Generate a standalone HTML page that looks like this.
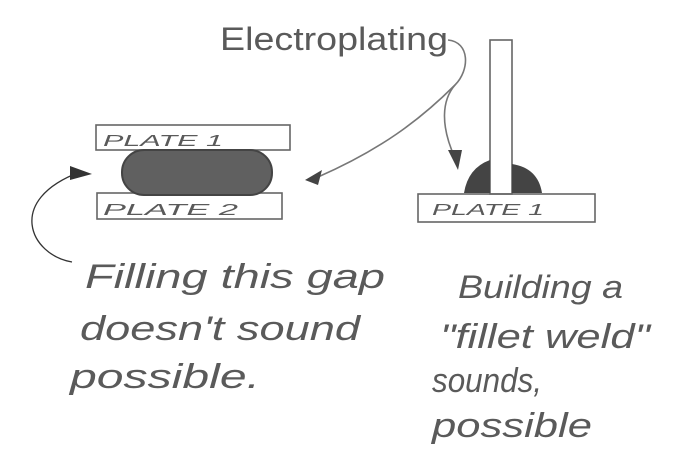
<!DOCTYPE html>
<html><head><meta charset="utf-8"><style>
html,body{margin:0;padding:0;background:#fff;}
svg{display:block}
text{font-family:"Liberation Sans",sans-serif;fill:#5a5a5a;font-style:italic;}
</style></head><body>
<svg width="682" height="457" viewBox="0 0 682 457" xmlns="http://www.w3.org/2000/svg">
<g stroke="#666" stroke-width="1.6" fill="none">
<rect x="96" y="125" width="194" height="25"/>
<rect x="97" y="193" width="185" height="26"/>
<rect x="490" y="40" width="22" height="154"/>
<rect x="418" y="194" width="177" height="28"/>
<path d="M448 40 C470 42 470 70 455 85 C420 120 380 150 318 177" stroke="#777"/>
<path d="M455 85 C442 100 440 125 455 158" stroke="#777"/>
<path d="M72 262 C30 255 5 200 80 172" stroke="#333" stroke-width="1.3"/>
</g>
<rect x="122" y="150" width="150" height="45" rx="22" fill="#606060" stroke="#444" stroke-width="2"/>
<path d="M464 193 Q468 168 490 160 L490 193 Z" fill="#444"/>
<path d="M512 193 L512 164 Q538 168 542 193 Z" fill="#444"/>
<path d="M305 180 L322 170 L318 185 Z" fill="#444"/>
<path d="M448 150 L462 150 L458 170 Z" fill="#444"/>
<path d="M70 166 L92 174 L70 180 Z" fill="#333"/>
<text x="220" y="50" font-size="32" style="font-style:normal" textLength="228" lengthAdjust="spacingAndGlyphs">Electroplating</text>
<text x="103" y="146" font-size="16" textLength="120" lengthAdjust="spacingAndGlyphs">PLATE 1</text>
<text x="103" y="215" font-size="16" textLength="135" lengthAdjust="spacingAndGlyphs">PLATE 2</text>
<text x="432" y="215" font-size="16" textLength="112" lengthAdjust="spacingAndGlyphs">PLATE 1</text>
<text x="85" y="288" font-size="34" textLength="300" lengthAdjust="spacingAndGlyphs">Filling this gap</text>
<text x="80" y="340" font-size="34" textLength="280" lengthAdjust="spacingAndGlyphs">doesn't sound</text>
<text x="70" y="388" font-size="34" textLength="190" lengthAdjust="spacingAndGlyphs">possible.</text>
<text x="458" y="298" font-size="32" textLength="165" lengthAdjust="spacingAndGlyphs">Building a</text>
<text x="440" y="348" font-size="34" textLength="210" lengthAdjust="spacingAndGlyphs">"fillet weld"</text>
<text x="432" y="392" font-size="34" textLength="110" lengthAdjust="spacingAndGlyphs">sounds,</text>
<text x="432" y="437" font-size="34" textLength="160" lengthAdjust="spacingAndGlyphs">possible</text>
</svg>
</body></html>
